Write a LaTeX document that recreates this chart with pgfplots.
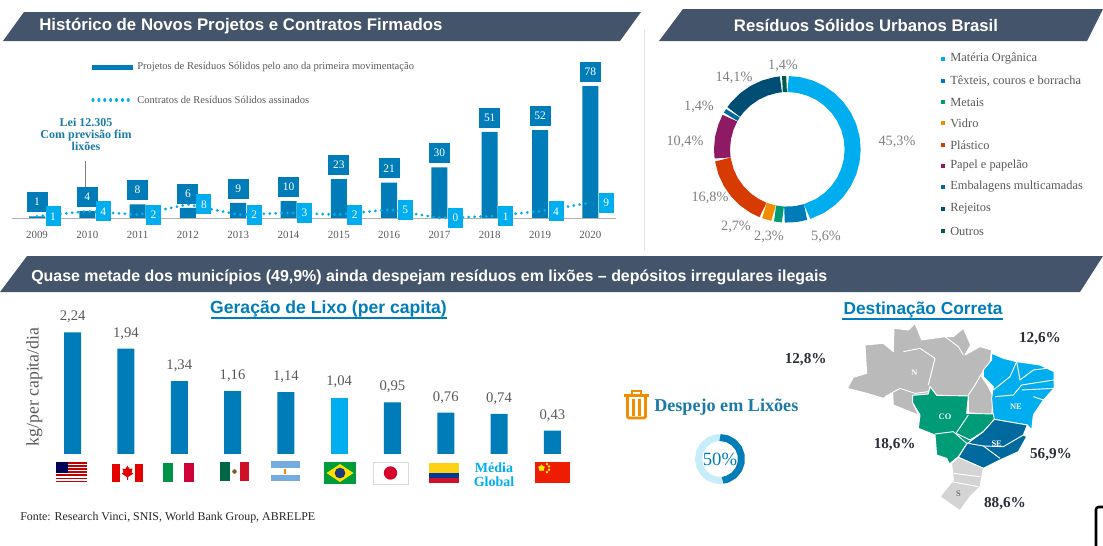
\documentclass[border=0pt]{standalone}
\usepackage{fontspec}
\setmainfont{Liberation Serif}
\newfontfamily\hdr{Liberation Sans}
\usepackage{pgfplots}
\pgfplotsset{compat=1.18}
\usetikzlibrary{shapes.geometric}
\definecolor{header}{HTML}{44546A}
\definecolor{azul}{HTML}{007DB8}
\definecolor{ciano}{HTML}{00AEEF}
\definecolor{verde}{HTML}{009B77}
\definecolor{laranja}{HTML}{F28C00}
\definecolor{verm}{HTML}{D83B01}
\definecolor{roxo}{HTML}{8E1A66}
\definecolor{emb}{HTML}{006A9E}
\definecolor{rej}{HTML}{004E74}
\definecolor{outros}{HTML}{005A4E}
\definecolor{cinza}{HTML}{595959}
\definecolor{cinzal}{HTML}{7F7F7F}
\definecolor{teal}{HTML}{1B7BA5}
\definecolor{escuro}{HTML}{2B2F3A}
\definecolor{itgr}{HTML}{009246}
\definecolor{itre}{HTML}{CE0037}
\definecolor{mxgr}{HTML}{006847}
\definecolor{flre}{HTML}{CE1126}
\definecolor{arbl}{HTML}{74ACDF}
\definecolor{brgr}{HTML}{009B3A}
\definecolor{brye}{HTML}{FFDF00}
\definecolor{brbl}{HTML}{1B3A7A}
\definecolor{jpre}{HTML}{D7002B}
\definecolor{coye}{HTML}{FCD116}
\definecolor{cobl}{HTML}{003893}
\definecolor{cnre}{HTML}{EE1C00}
\newcommand{\fs}[1]{\fontsize{#1}{#1}\selectfont}

\begin{document}
\begin{tikzpicture}
\path[use as bounding box] (0,0) rectangle (827.25pt,409.5pt);

% page furniture, in pixel coordinates of the reference
\begin{axis}[
    at={(0pt,0pt)}, anchor=south west, scale only axis,
    width=827.25pt, height=409.5pt,
    xmin=0, xmax=1103, ymin=0, ymax=546, y dir=reverse,
    hide axis, clip=false]
% headers
\fill[header] (3,41) -- (24,12) -- (641,12) -- (620,41) -- cycle;
\fill[header] (659,41) -- (683,9) -- (1103,9) -- (1087,41) -- cycle;
\fill[header] (0,292) -- (27,256) -- (1103,256) -- (1080,292) -- cycle;
\node[anchor=west,inner sep=0pt,text=white,font=\hdr\bfseries\fs{12.6}] at (39,26) {Histórico de Novos Projetos e Contratos Firmados};
\node[text=white,inner sep=0pt,font=\hdr\bfseries\fs{12.55}] at (866,25) {Resíduos Sólidos Urbanos Brasil};
\node[anchor=west,inner sep=0pt,text=white,font=\hdr\bfseries\fs{11.95}] at (31,277) {Quase metade dos municípios (49,9\%) ainda despejam resíduos em lixões – depósitos irregulares ilegais};
\draw[gray!25,line width=0.7pt] (644,30) -- (644,250);

% legend of the top chart
\fill[azul] (92,64.5) rectangle (133,69.5);
\draw[ciano,line width=2.3pt,line cap=round,dash pattern=on 0.01pt off 4.4pt] (93,100) -- (133,100);
\node[anchor=west,inner sep=0pt,text=cinza,font=\fs{7.9}] at (137,67) {Projetos de Resíduos Sólidos pelo ano da primeira movimentação};
\node[anchor=west,inner sep=0pt,text=cinza,font=\fs{7.9}] at (137,100) {Contratos de Resíduos Sólidos assinados};
\node[text=teal,font=\bfseries\fs{9},align=center,inner sep=0pt] at (86,134) {Lei 12.305\\Com previsão fim\\lixões};
\draw[gray,line width=0.6pt] (85,161) -- (85,188);

% legend of the donut
\fill[ciano] (941,57) rectangle (945,61);
\fill[azul] (941,79) rectangle (945,83);
\fill[verde] (941,100) rectangle (945,104);
\fill[laranja] (941,121) rectangle (945,125);
\fill[verm] (941,143) rectangle (945,147);
\fill[roxo] (941,164) rectangle (945,168);
\fill[emb] (941,185) rectangle (945,189);
\fill[rej] (941,207) rectangle (945,211);
\fill[outros] (941,229) rectangle (945,233);
\node[anchor=west,text=cinza,inner sep=0pt,font=\fs{9.3}] at (950,59) {Matéria Orgânica};
\node[anchor=west,text=cinza,inner sep=0pt,font=\fs{9.3}] at (950,81) {Têxteis, couros e borracha};
\node[anchor=west,text=cinza,inner sep=0pt,font=\fs{9.3}] at (950,102) {Metais};
\node[anchor=west,text=cinza,inner sep=0pt,font=\fs{9.3}] at (950,123) {Vidro};
\node[anchor=west,text=cinza,inner sep=0pt,font=\fs{9.3}] at (950,145) {Plástico};
\node[anchor=west,text=cinza,inner sep=0pt,font=\fs{9.3}] at (950,166) {Papel e papelão};
\node[anchor=west,text=cinza,inner sep=0pt,font=\fs{9.3}] at (950,187) {Embalagens multicamadas};
\node[anchor=west,text=cinza,inner sep=0pt,font=\fs{9.3}] at (950,209) {Rejeitos};
\node[anchor=west,text=cinza,inner sep=0pt,font=\fs{9.3}] at (950,231) {Outros};
% donut labels
\node[text=cinzal,font=\fs{10.7}] at (783,66) {1,4\%};
\node[text=cinzal,font=\fs{10.7}] at (897,142) {45,3\%};
\node[text=cinzal,font=\fs{10.7}] at (734,78) {14,1\%};
\node[text=cinzal,font=\fs{10.7}] at (699,107) {1,4\%};
\node[text=cinzal,font=\fs{10.7}] at (685,142) {10,4\%};
\node[text=cinzal,font=\fs{10.7}] at (710,198) {16,8\%};
\node[text=cinzal,font=\fs{10.7}] at (736,227) {2,7\%};
\node[text=cinzal,font=\fs{10.7}] at (769,237) {2,3\%};
\node[text=cinzal,font=\fs{10.7}] at (826,237) {5,6\%};

% lower left titles
\node[text=azul,font=\hdr\bfseries\fs{13.2},inner sep=0pt] at (328.5,309) {Geração de Lixo (per capita)};
\draw[azul,line width=1.4pt] (210.5,318) -- (447,318);
\node[text=cinza,rotate=90,font=\fs{13.3},inner sep=0pt] at (34.5,387) {kg/per capita/dia};
\node[anchor=west,text=black!85,font=\fs{8.95},inner sep=0pt] at (20,518) {Fonte: Research Vinci, SNIS, World Bank Group, ABRELPE};

% flags
% USA
\fill[white] (56,462) rectangle (86.5,482);
\fill[red!75!black] (56,462) rectangle (86.5,463.5);
\fill[red!75!black] (56,465.1) rectangle (86.5,466.6);
\fill[red!75!black] (56,468.2) rectangle (86.5,469.7);
\fill[red!75!black] (56,471.3) rectangle (86.5,472.8);
\fill[red!75!black] (56,474.4) rectangle (86.5,475.9);
\fill[red!75!black] (56,477.5) rectangle (86.5,479);
\fill[red!75!black] (56,480.5) rectangle (86.5,482);
\fill[blue!35!black] (56,462) rectangle (68,472.5);
% Canada
\fill[red!90!black] (112,463.5) rectangle (120,482);
\fill[red!90!black] (135,463.5) rectangle (143,482);
\fill[red!90!black] (127.5,465.5) -- (129.5,469) -- (132.5,468.5) -- (131.5,472.5) -- (133.5,473.5) -- (128,477) -- (128,480) -- (127,480) -- (127,477) -- (121.5,473.5) -- (123.5,472.5) -- (122.5,468.5) -- (125.5,469) -- cycle;
% Italy
\fill[itgr] (163,463) rectangle (173.3,482);
\fill[itre] (183.7,463) rectangle (194,482);
% Mexico
\fill[mxgr] (220,462) rectangle (229.5,481);
\fill[flre] (239.5,462) rectangle (249,481);
\fill[brown!70!black] (234.5,471.5) circle[radius=1.7pt];
% Argentina
\fill[arbl] (270.5,461) rectangle (300,467.5);
\fill[arbl] (270.5,474.5) rectangle (300,481);
\fill[laranja] (284,468.5) rectangle (286,473.5);
% Brazil
\fill[brgr] (324,462) rectangle (356,484);
\fill[brye] (340,464) -- (353.5,473) -- (340,482) -- (326.5,473) -- cycle;
\fill[brbl] (340,473) circle[radius=4pt];
% Japan
\draw[black!15,fill=white,line width=0.5pt] (373,462) rectangle (408,484);
\fill[jpre] (390.5,473) circle[radius=5pt];
% Colombia
\fill[coye] (429,463) rectangle (459,473);
\fill[cobl] (429,473) rectangle (459,478);
\fill[flre] (429,478) rectangle (459,483);
% Media Global
\node[text=ciano,font=\bfseries\fs{10.5},align=center,inner sep=0pt] at (494,475) {Média\\Global};
% China
\fill[cnre] (535,462) rectangle (570,483);
\node[star,star points=5,fill=yellow,inner sep=0pt,minimum size=5.5pt] at (541.5,468) {};
\node[star,star points=5,fill=yellow,inner sep=0pt,minimum size=2pt] at (547,463.8) {};
\node[star,star points=5,fill=yellow,inner sep=0pt,minimum size=2pt] at (549,466.3) {};
\node[star,star points=5,fill=yellow,inner sep=0pt,minimum size=2pt] at (549,469.7) {};
\node[star,star points=5,fill=yellow,inner sep=0pt,minimum size=2pt] at (547,472) {};

% trash icon
\fill[laranja] (624,394) rectangle (649,396.8);
\draw[laranja,line width=1.4pt] (632,394) -- (632,391) -- (641,391) -- (641,394);
\draw[laranja,line width=2.1pt,rounded corners=1pt] (627.5,397) -- (627.5,418) -- (645.5,418) -- (645.5,397);
\draw[laranja,line width=2.1pt] (633.5,399) -- (633.5,416);
\draw[laranja,line width=2.1pt] (639.5,399) -- (639.5,416);
\node[anchor=west,text=teal,font=\bfseries\fs{13.6},inner sep=0pt] at (654,407) {Despejo em Lixões};
% right title
\node[text=azul,font=\hdr\bfseries\fs{13},inner sep=0pt] at (923,310) {Destinação Correta};
\draw[azul,line width=1.4pt] (842,319) -- (1003,319);
% device corner
\draw[black,line width=1.9pt,rounded corners=2pt] (1103,507) -- (1096,507) -- (1096,546);
\end{axis}

% top chart
\begin{axis}[
    at={(9pt,246pt)}, anchor=south west, scale only axis,
    width=453pt, height=101.4pt,
    xmin=2008.503, xmax=2020.51, ymin=0, ymax=80,
    axis y line=none, axis x line=bottom, axis line style={gray!60,-},
    xtick={2009,2010,2011,2012,2013,2014,2015,2016,2017,2018,2019,2020},
    xticklabel style={/pgf/number format/1000 sep={},text=cinza,font=\fs{8.2}},
    /pgf/number format/assume math mode=true,
    major tick length=0pt, tick style={draw=none},
    xticklabel shift=6.75pt,
    clip=false]
\addplot[ybar, bar width=12pt, bar shift=0pt, fill=azul, draw=none,
    nodes near coords={\pgfmathprintnumber{\pgfplotspointmeta}},
    every node near coord/.append style={anchor=south, yshift=3pt, fill=azul, text=white,
        font=\fs{8.6}, minimum width=15.75pt, minimum height=15pt, inner sep=0pt}]
coordinates {(2009,1) (2010,4) (2011,8) (2012,6) (2013,9) (2014,10) (2015,23) (2016,21) (2017,30) (2018,51) (2019,52) (2020,78)};
\addplot[ciano, line width=2.3pt, line cap=round, dash pattern=on 0.01pt off 4.4pt, mark=none]
coordinates {(2009,1) (2010,4) (2011,2) (2012,8) (2013,2) (2014,3) (2015,2) (2016,5) (2017,0) (2018,1) (2019,4) (2020,9)};
\addplot[draw=none, mark=none,
    nodes near coords={\pgfmathprintnumber{\pgfplotspointmeta}},
    every node near coord/.append style={anchor=center, xshift=12pt, fill=ciano, text=white,
        font=\fs{8.6}, minimum width=11.25pt, minimum height=15pt, inner sep=0pt}]
coordinates {(2009,1) (2010,4) (2011,2) (2012,8) (2013,2) (2014,3) (2015,2) (2016,5) (2017,0) (2018,1) (2019,4) (2020,9)};
\end{axis}

% donut, radius in px, angles in polar coordinates
\begin{axis}[
    at={(590.5pt,297.5pt)}, anchor=center, scale only axis,
    width=110pt, height=110pt,
    xmin=-73.3, xmax=73.3, ymin=-73.3, ymax=73.3,
    hide axis, clip=false, no markers,
    every axis plot/.append style={line width=12pt, line cap=butt, line join=round, data cs=polar}]
\addplot[ciano] coordinates {(89.3,65.3) (80,65.3) (70,65.3) (60,65.3) (50,65.3) (40,65.3) (30,65.3) (20,65.3) (10,65.3) (0,65.3) (-10,65.3) (-20,65.3) (-30,65.3) (-40,65.3) (-50,65.3) (-60,65.3) (-72.4,65.3)};
\addplot[azul] coordinates {(-73.8,65.3) (-83,65.3) (-92.5,65.3)};
\addplot[verde] coordinates {(-93.9,65.3) (-100.8,65.3)};
\addplot[laranja] coordinates {(-102.2,65.3) (-110.5,65.3)};
\addplot[verm] coordinates {(-111.9,65.3) (-120,65.3) (-130,65.3) (-140,65.3) (-150,65.3) (-160,65.3) (-171,65.3)};
\addplot[roxo] coordinates {(-172.4,65.3) (-180,65.3) (-190,65.3) (-200,65.3) (-208.5,65.3)};
\addplot[emb] coordinates {(-209.9,65.3) (-213.5,65.3)};
\addplot[rej] coordinates {(-214.9,65.3) (-220,65.3) (-230,65.3) (-240,65.3) (-250,65.3) (-260,65.3) (-264.3,65.3)};
\addplot[outros] coordinates {(-265.7,65.3) (-269.3,65.3)};
\end{axis}

% lower bars
\begin{axis}[
    at={(34.5pt,69pt)}, anchor=south west, scale only axis,
    width=399.75pt, height=101.8pt,
    xmin=-0.5, xmax=9.5, ymin=0, ymax=2.5,
    hide axis, clip=false,
    /pgf/number format/.cd, assume math mode=true, use comma, fixed, fixed zerofill, precision=2]
\addplot[ybar, bar width=12.75pt, bar shift=0pt, fill=azul, draw=none,
    nodes near coords={\pgfmathprintnumber{\pgfplotspointmeta}},
    every node near coord/.append style={anchor=center, yshift=11.5pt, text=cinza, font=\fs{11}, inner sep=0pt}]
coordinates {(0,2.24) (1,1.94) (2,1.34) (3,1.16) (4,1.14) (6,0.95) (7,0.76) (8,0.74) (9,0.43)};
\addplot[ybar, bar width=12.75pt, bar shift=0pt, fill=ciano, draw=none,
    nodes near coords={\pgfmathprintnumber{\pgfplotspointmeta}},
    every node near coord/.append style={anchor=center, yshift=11.5pt, text=cinza, font=\fs{11}, inner sep=0pt}]
coordinates {(5,1.04)};
\end{axis}

% small donut: 50%
\begin{axis}[
    at={(540pt,65.25pt)}, anchor=center, scale only axis,
    width=37.5pt, height=37.5pt,
    xmin=-25, xmax=25, ymin=-25, ymax=25,
    hide axis, clip=false, no markers,
    every axis plot/.append style={line width=5.25pt, line cap=butt, line join=round, data cs=polar}]
\addplot[ciano!22] coordinates {(-83,21.5) (-100,21.5) (-120,21.5) (-140,21.5) (-160,21.5) (-180,21.5) (-200,21.5) (-220,21.5) (-240,21.5) (-260,21.5) (-270,21.5)};
\addplot[azul] coordinates {(90,21.5) (70,21.5) (50,21.5) (30,21.5) (10,21.5) (-10,21.5) (-30,21.5) (-50,21.5) (-70,21.5) (-83,21.5)};
\node[text=azul,font=\fs{14},inner sep=0pt] at (axis cs:0,0) {50\%};
\end{axis}

% map, in a 1509x768 grid over the lower right corner
\begin{axis}[
    at={(450pt,0pt)}, anchor=south west, scale only axis,
    width=377.25pt, height=192pt,
    xmin=0, xmax=1509, ymin=0, ymax=768, y dir=reverse,
    hide axis, clip=false, no markers,
    every axis plot/.append style={draw=white, line width=0.7pt, line join=round}]
% N
\addplot[fill=black!27] coordinates {(742,295) (760,262) (800,250) (795,165) (850,160) (880,185) (882,115) (925,120) (945,100) (955,125) (965,150) (1035,140) (1060,140) (1090,115) (1112,165) (1095,195) (1140,170) (1175,180) (1170,215) (1150,240) (1145,260) (1165,290) (1180,320) (1175,375) (1105,368) (1105,318) (1010,316) (990,290) (985,312) (938,316) (938,338) (955,375) (880,345) (878,310) (850,325) (800,310)} --cycle;
% NE
\addplot[fill=ciano] coordinates {(1175,190) (1210,205) (1250,215) (1320,225) (1362,245) (1362,295) (1330,330) (1300,375) (1295,420) (1282,405) (1180,388) (1175,325) (1180,290) (1150,260) (1150,240) (1175,210)} --cycle;
% CO
\addplot[fill=verde] coordinates {(938,316) (985,312) (990,290) (1010,316) (1105,318) (1100,370) (1180,372) (1183,388) (1150,425) (1110,455) (1100,462) (1075,500) (1048,522) (1040,505) (1010,495) (1005,435) (955,415) (960,375) (938,338)} --cycle;
% SE
\addplot[fill=emb] coordinates {(1183,388) (1282,405) (1270,435) (1280,440) (1255,485) (1200,510) (1150,535) (1075,502) (1100,462) (1150,425)} --cycle;
% S
\addplot[fill=black!17] coordinates {(1075,502) (1150,535) (1140,590) (1110,620) (1080,662) (1020,620) (1060,570) (1055,520)} --cycle;
% state borders
\addplot[fill=none] coordinates {(910,185) (960,175) (1005,205) (985,285)};
\addplot[fill=none] coordinates {(1035,140) (1075,170) (1090,195)};
\addplot[fill=none] coordinates {(855,320) (900,295) (945,310) (985,305)};
\addplot[fill=none] coordinates {(1105,315) (1125,285) (1145,250)};
\addplot[fill=none] coordinates {(1180,300) (1230,260) (1250,215)};
\addplot[fill=none] coordinates {(1250,215) (1260,270) (1300,240) (1340,235)};
\addplot[fill=none] coordinates {(1185,320) (1240,315) (1265,285) (1362,270)};
\addplot[fill=none] coordinates {(1265,300) (1362,295)};
\addplot[fill=none] coordinates {(1300,320) (1330,330)};
\addplot[fill=none] coordinates {(1005,432) (1060,425) (1100,460)};
\addplot[fill=none] coordinates {(1068,430) (1105,375)};
\addplot[fill=none] coordinates {(1068,430) (1110,450) (1150,425)};
\addplot[fill=none] coordinates {(1105,460) (1150,468) (1200,505)};
\addplot[fill=none] coordinates {(1150,468) (1210,470) (1270,435)};
\addplot[fill=none] coordinates {(1060,550) (1140,560)};
\addplot[fill=none] coordinates {(1055,575) (1135,590)};
\node[text=white,font=\bfseries\fs{6.3},inner sep=0pt] at (943,247) {N};
\node[text=white,font=\bfseries\fs{6.3},inner sep=0pt] at (1248,350) {NE};
\node[text=white,font=\bfseries\fs{6.3},inner sep=0pt] at (1035,380) {CO};
\node[text=white,font=\bfseries\fs{6.3},inner sep=0pt] at (1190,462) {SE};
\node[text=black!55,font=\bfseries\fs{6.3},inner sep=0pt] at (1075,610) {S};
\node[text=escuro,font=\bfseries\fs{11.4},inner sep=0pt] at (1320,147) {12,6\%};
\node[text=escuro,font=\bfseries\fs{11.4},inner sep=0pt] at (617,208) {12,8\%};
\node[text=escuro,font=\bfseries\fs{11.4},inner sep=0pt] at (884,465) {18,6\%};
\node[text=escuro,font=\bfseries\fs{11.4},inner sep=0pt] at (1353,493) {56,9\%};
\node[text=escuro,font=\bfseries\fs{11.4},inner sep=0pt] at (1215,640) {88,6\%};
\end{axis}
\end{tikzpicture}
\end{document}
